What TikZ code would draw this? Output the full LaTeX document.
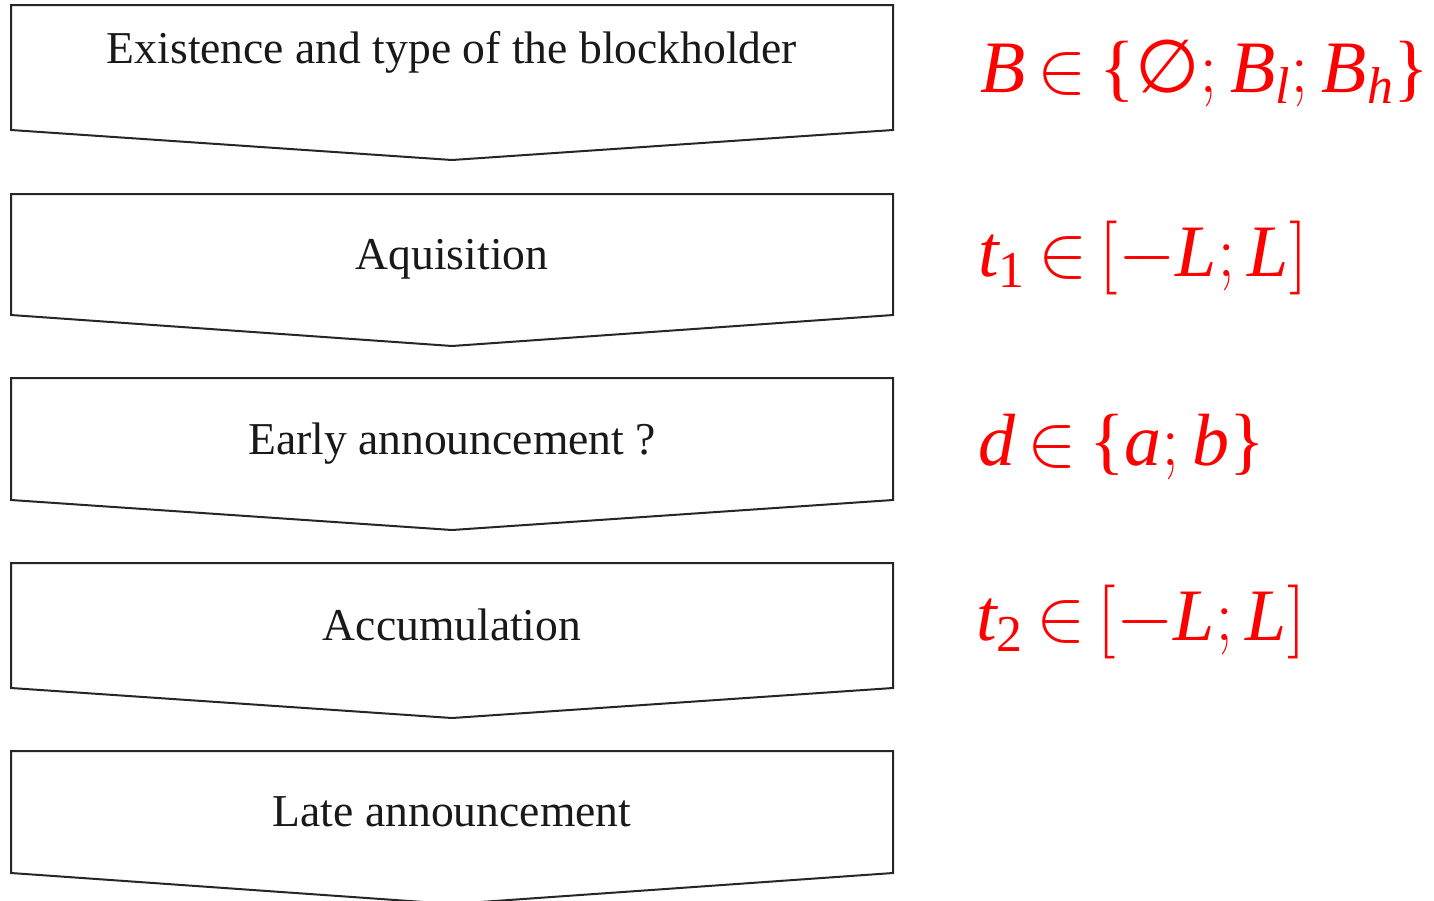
\documentclass[tikz,border=0pt]{standalone}
\usepackage{fix-cm}
\usepackage{fontspec}
\setmainfont{Liberation Serif}
\newfontfamily\symfont{DejaVu Sans}
\newcommand{\lbr}{\mathopen{\mbox{\{}}}
\newcommand{\rbr}{\mathclose{\mbox{\}}}}
\newcommand{\tms}{\thickmuskip=3mu\relax}
\begin{document}
\begin{tikzpicture}[x=0.5pt,y=-0.5pt]
\tikzset{
  chev/.style={draw=black!85, line width=1pt, fill=white, line join=miter},
  lbl/.style={anchor=base, font=\fontsize{22.8}{27}\selectfont, text=black!90},
  mth/.style={anchor=base west, text=red, font=\fontsize{37}{45}\selectfont, inner sep=0pt}
}
\useasboundingbox (0,0) rectangle (1434,900);
% chevrons
\foreach \t/\s/\p in {5/130/160, 194/315/346, 378/500/530, 563/688/718, 751/873/904}{
  \draw[chev] (11,\t) -- (893,\t) -- (893,\s) -- (452,\p) -- (11,\s) -- cycle;
}
\node[lbl] (n1) at (452,63) {Existence and type of the blockholder};
\node[lbl] (n2) at (452,269) {Aquisition};
\node[lbl] (n3) at (452,454) {Early announcement ?};
\node[lbl] (n4) at (452,640) {Accumulation};
\node[lbl] (n5) at (452,826) {Late announcement};
% formulas
\node[mth] (m1) at (980,92) {$\tms\mathit{B}\in\lbr\mbox{\symfont ∅};\mathit{B}_{\mathit{l}};\mathit{B}_{\mathit{h}}\rbr$};
\node[mth] (m2) at (978,276) {$\tms\mathit{t}_{\mathrm{1}}\in\bigl[-\mathit{L};\mathit{L}\bigr]$};
\node[mth] (m3) at (978,465) {$\tms\mathit{d}\in\lbr\mathit{a};\mathit{b}\rbr$};
\node[mth] (m4) at (976,640) {$\tms\mathit{t}_{\mathrm{2}}\in\bigl[-\mathit{L};\mathit{L}\bigr]$};
\end{tikzpicture}
\end{document}
